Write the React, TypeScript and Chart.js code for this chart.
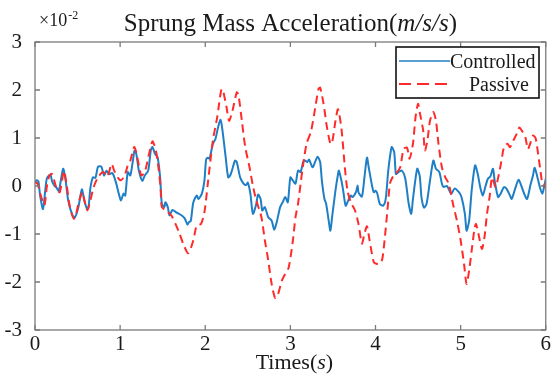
import React, { useEffect, useRef } from "react";
import { Chart, registerables } from "chart.js";

Chart.register(...registerables);

// ---- Data (values in units of 10^-2 m/s/s) ----
const controlledTime = [
  0.0, 0.02, 0.04, 0.06, 0.094, 0.12, 0.14, 0.18, 0.2, 0.23, 0.25, 0.28, 0.33, 0.36, 0.39, 0.44, 0.47, 0.51, 0.55, 0.58,
  0.61, 0.63, 0.65, 0.68, 0.71, 0.74, 0.78, 0.81, 0.84, 0.87, 0.91, 0.95, 0.99, 1.01, 1.04, 1.06, 1.09, 1.12, 1.15, 1.17,
  1.19, 1.22, 1.26, 1.29, 1.33, 1.36, 1.38, 1.41, 1.44, 1.47, 1.49, 1.52, 1.53, 1.56, 1.58, 1.615, 1.66, 1.72, 1.76, 1.79,
  1.81, 1.83, 1.86, 1.9, 1.92, 1.96, 1.99, 2.01, 2.03, 2.05, 2.09, 2.12, 2.15, 2.18, 2.2, 2.24, 2.27, 2.3, 2.35, 2.37,
  2.41, 2.45, 2.48, 2.5, 2.53, 2.56, 2.6, 2.62, 2.65, 2.67, 2.7, 2.74, 2.78, 2.81, 2.84, 2.88, 2.91, 2.94, 2.97, 3.0,
  3.03, 3.06, 3.09, 3.12, 3.15, 3.17, 3.2, 3.22, 3.26, 3.29, 3.32, 3.35, 3.37, 3.4, 3.42, 3.45, 3.47, 3.49, 3.53, 3.56,
  3.57, 3.6, 3.62, 3.65, 3.68, 3.71, 3.73, 3.77, 3.79, 3.8, 3.84, 3.87, 3.9, 3.92, 3.96, 3.98, 4.0, 4.02, 4.05, 4.09,
  4.12, 4.15, 4.19, 4.22, 4.24, 4.27, 4.31, 4.35, 4.39, 4.42, 4.44, 4.49, 4.52, 4.54, 4.57, 4.6, 4.64, 4.68, 4.71, 4.75,
  4.78, 4.8, 4.84, 4.89, 4.93, 4.98, 5.01, 5.05, 5.07, 5.1, 5.13, 5.17, 5.2, 5.23, 5.26, 5.29, 5.32, 5.35, 5.38, 5.4,
  5.44, 5.47, 5.51, 5.54, 5.58, 5.6, 5.64, 5.68, 5.71, 5.74, 5.78, 5.82, 5.85, 5.87, 5.9, 5.93, 5.96, 5.98, 6.0,
];
const controlledValue = [
  0.08, 0.12, 0.1, -0.2, -0.48, -0.1, 0.16, 0.24, 0.1, 0.0, -0.03, -0.1, 0.36, 0.11, -0.3, -0.61, -0.65, -0.44, -0.07, -0.3,
  -0.47, -0.42, -0.05, 0.18, 0.17, 0.4, 0.4, 0.22, 0.32, 0.25, 0.27, 0.08, -0.2, -0.3, -0.16, -0.2, 0.29, 0.22, 0.53, 0.74,
  0.67, 0.32, 0.11, 0.22, 0.32, 0.74, 0.81, 0.67, 0.6, 0.18, -0.37, -0.44, -0.34, -0.44, -0.61, -0.5, -0.55, -0.61, -0.68, -0.8,
  -0.75, -0.73, -0.34, -0.2, -0.27, -0.16, 0.11, 0.55, 0.59, 0.57, 0.88, 0.98, 1.22, 1.38, 1.19, 0.6, 0.18, 0.25, 0.53, 0.5,
  0.18, 0.05, 0.02, 0.07, -0.16, -0.58, -0.37, -0.18, -0.27, -0.51, -0.44, -0.65, -0.72, -0.91, -0.75, -0.44, -0.34, -0.23, -0.34, 0.18,
  0.11, 0.05, 0.32, 0.29, 0.5, 0.53, 0.5, 0.55, 0.39, 0.5, 0.61, 0.5, 0.11, -0.27, -0.37, -0.72, -0.93, -0.65, -0.09, 0.25,
  0.32, 0.11, -0.09, -0.41, -0.3, -0.2, -0.23, -0.13, 0.01, -0.13, -0.22, 0.18, 0.59, 0.39, 0.0, -0.13, -0.1, -0.15, -0.37, -0.41,
  -0.27, 0.32, 0.81, 0.7, 0.25, 0.29, 0.32, 0.15, -0.37, -0.58, -0.27, 0.36, 0.2, -0.23, -0.45, -0.37, 0.11, 0.53, 0.36, 0.29,
  0.05, -0.02, 0.0, -0.16, -0.05, -0.13, -0.23, -0.58, -0.93, -0.72, -0.09, 0.43, 0.26, -0.02, -0.2, -0.02, 0.15, 0.2, 0.36, 0.11,
  -0.23, -0.16, -0.02, -0.06, -0.2, -0.27, -0.06, 0.13, 0.02, -0.13, -0.27, 0.02, 0.22, 0.38, 0.2, -0.02, -0.16, -0.02, 0.15,
];

const passiveTime = [
  0.0, 0.03, 0.06, 0.11, 0.14, 0.17, 0.2, 0.25, 0.29, 0.34, 0.37, 0.41, 0.455, 0.48, 0.52, 0.56, 0.58, 0.615, 0.65, 0.69,
  0.74, 0.8, 0.85, 0.9, 0.93, 1.0, 1.05, 1.09, 1.12, 1.165, 1.19, 1.22, 1.25, 1.29, 1.34, 1.38, 1.42, 1.44, 1.475, 1.49,
  1.54, 1.6, 1.65, 1.7, 1.74, 1.8, 1.86, 1.9, 1.95, 1.99, 2.03, 2.09, 2.14, 2.19, 2.21, 2.25, 2.28, 2.32, 2.37, 2.39,
  2.43, 2.47, 2.52, 2.56, 2.6, 2.66, 2.7, 2.74, 2.78, 2.82, 2.85, 2.9, 2.94, 2.98, 3.03, 3.06, 3.09, 3.14, 3.19, 3.24,
  3.28, 3.33, 3.35, 3.39, 3.43, 3.47, 3.49, 3.53, 3.56, 3.6, 3.64, 3.67, 3.71, 3.76, 3.8, 3.84, 3.87, 3.9, 3.93, 3.98,
  4.01, 4.05, 4.08, 4.11, 4.14, 4.17, 4.2, 4.24, 4.29, 4.33, 4.37, 4.4, 4.44, 4.47, 4.5, 4.52, 4.56, 4.58, 4.61, 4.64,
  4.68, 4.71, 4.74, 4.78, 4.82, 4.86, 4.91, 4.96, 5.0, 5.04, 5.07, 5.1, 5.13, 5.16, 5.18, 5.21, 5.25, 5.28, 5.31, 5.34,
  5.37, 5.41, 5.45, 5.48, 5.51, 5.55, 5.58, 5.62, 5.66, 5.69, 5.72, 5.76, 5.79, 5.82, 5.85, 5.88, 5.91, 5.94, 5.96, 5.99,
  6.0,
];
const passiveValue = [
  0.08, 0.05, -0.15, -0.4, 0.0, 0.22, 0.25, -0.03, -0.13, 0.31, 0.05, -0.44, -0.68, -0.6, -0.3, -0.13, -0.3, -0.51, -0.3, -0.02,
  0.18, 0.29, 0.2, 0.46, 0.32, 0.12, 0.2, 0.43, 0.53, 0.81, 0.7, 0.43, 0.22, 0.29, 0.67, 0.93, 0.74, 0.53, -0.02, -0.44,
  -0.51, -0.61, -0.79, -1.0, -1.2, -1.4, -1.13, -0.82, -0.79, -0.55, 0.05, 0.95, 1.43, 2.02, 1.98, 1.64, 1.36, 1.57, 1.95, 1.9,
  1.36, 0.81, 0.39, 0.0, -0.3, -0.65, -1.13, -1.55, -2.04, -2.33, -2.28, -1.97, -1.83, -1.7, -1.13, -0.65, -0.37, 0.32, 0.88, 1.12,
  1.5, 2.02, 2.05, 1.71, 1.22, 0.88, 0.9, 1.36, 1.6, 1.19, 0.39, -0.09, -0.34, -0.51, -0.79, -1.2, -1.0, -0.84, -1.13, -1.59,
  -1.62, -1.62, -1.52, -1.07, -0.51, 0.05, 0.18, 0.25, 0.39, 0.77, 0.8, 0.57, 0.88, 1.43, 1.71, 1.53, 1.16, 0.74, 0.95, 1.36,
  1.54, 1.36, 0.88, 0.39, 0.18, 0.05, -0.37, -0.75, -1.13, -1.62, -2.04, -1.76, -1.34, -0.93, -0.79, -1.0, -1.31, -1.07, -0.58, -0.23,
  0.18, -0.02, 0.25, 0.53, 0.81, 0.88, 0.81, 0.95, 1.09, 1.22, 1.15, 1.02, 0.77, 0.9, 1.05, 1.0, 0.67, 0.29, 0.05, -0.02,
  0.08,
];

const xTickValues = [0, 1, 2, 3, 4, 5, 6];
const yTickValues = [-3, -2, -1, 0, 1, 2, 3];
const seriesLabels = ["Controlled", "Passive"];

const SERIF = "'Liberation Serif', 'Times New Roman', serif";
const BLUE = "#1f7fc6";
const RED = "#ff2a2a";
const TEXT = "#1a1a1a";

type Part = { text: string; italic?: boolean };

function drawParts(ctx: CanvasRenderingContext2D, parts: Part[], size: number, cx: number, baseline: number) {
  const fontFor = (p: Part) => `${p.italic ? "italic " : ""}${size}px ${SERIF}`;
  let total = 0;
  parts.forEach((p) => {
    ctx.font = fontFor(p);
    total += ctx.measureText(p.text).width;
  });
  let x = cx - total / 2;
  ctx.textAlign = "left";
  ctx.textBaseline = "alphabetic";
  parts.forEach((p) => {
    ctx.font = fontFor(p);
    ctx.fillText(p.text, x, baseline);
    x += ctx.measureText(p.text).width;
  });
}

const decorPlugin = {
  id: "matlabDecor",
  afterDraw(chart: any) {
    const { ctx, chartArea: a, scales } = chart;
    ctx.save();
    // frame
    ctx.strokeStyle = "#7a7a7a";
    ctx.lineWidth = 1.3;
    ctx.setLineDash([]);
    ctx.strokeRect(a.left, a.top, a.right - a.left, a.bottom - a.top);
    // inward ticks on all four sides
    ctx.beginPath();
    scales.x.ticks.forEach((t: any) => {
      const px = scales.x.getPixelForValue(t.value);
      ctx.moveTo(px, a.bottom);
      ctx.lineTo(px, a.bottom - 5);
      ctx.moveTo(px, a.top);
      ctx.lineTo(px, a.top + 5);
    });
    scales.y.ticks.forEach((t: any) => {
      const py = scales.y.getPixelForValue(t.value);
      ctx.moveTo(a.left, py);
      ctx.lineTo(a.left + 5, py);
      ctx.moveTo(a.right, py);
      ctx.lineTo(a.right - 5, py);
    });
    ctx.stroke();

    // legend box
    const lx = 396, ly = 47, lw = 143, lh = 51;
    ctx.fillStyle = "#ffffff";
    ctx.fillRect(lx, ly, lw, lh);
    ctx.strokeStyle = "#111111";
    ctx.lineWidth = 1.6;
    ctx.strokeRect(lx, ly, lw, lh);
    // controlled sample
    ctx.strokeStyle = BLUE;
    ctx.lineWidth = 1.5;
    ctx.beginPath();
    ctx.moveTo(399, 61);
    ctx.lineTo(450, 61);
    ctx.stroke();
    // passive sample
    ctx.strokeStyle = RED;
    ctx.lineWidth = 1.8;
    ctx.setLineDash([12, 6]);
    ctx.beginPath();
    ctx.moveTo(399, 84);
    ctx.lineTo(450, 84);
    ctx.stroke();
    ctx.setLineDash([]);
    ctx.fillStyle = TEXT;
    ctx.font = `20px ${SERIF}`;
    ctx.textAlign = "left";
    ctx.textBaseline = "alphabetic";
    ctx.fillText(seriesLabels[0], 450, 68);
    ctx.fillText(seriesLabels[1], 469, 91);

    // title
    ctx.fillStyle = TEXT;
    drawParts(
      ctx,
      [{ text: "Sprung Mass Acceleration(" }, { text: "m/s/s", italic: true }, { text: ")" }],
      25,
      (a.left + a.right) / 2,
      31
    );
    // exponent label
    ctx.font = `18px ${SERIF}`;
    ctx.textAlign = "left";
    ctx.fillText("\u00d710", 39, 26);
    const w = ctx.measureText("\u00d710").width;
    ctx.font = `12px ${SERIF}`;
    ctx.fillText("-2", 39 + w + 1, 19);

    // x axis title
    drawParts(ctx, [{ text: "Times(" }, { text: "s", italic: true }, { text: ")" }], 22, (a.left + a.right) / 2 + 4, 369);
    ctx.restore();
  },
};

export default function App() {
  const canvasRef = useRef<HTMLCanvasElement | null>(null);

  useEffect(() => {
    const canvas = canvasRef.current;
    if (!canvas) return;
    const chart = new Chart(canvas, {
      type: "line",
      data: {
        datasets: [
          {
            label: seriesLabels[0],
            data: controlledTime.map((t, i) => ({ x: t, y: controlledValue[i] })),
            borderColor: BLUE,
            backgroundColor: BLUE,
            borderWidth: 2,
            pointRadius: 0,
            tension: 0.25,
            fill: false,
            order: 1,
          },
          {
            label: seriesLabels[1],
            data: passiveTime.map((t, i) => ({ x: t, y: passiveValue[i] })),
            borderColor: RED,
            backgroundColor: RED,
            borderWidth: 2,
            borderDash: [8, 5],
            pointRadius: 0,
            tension: 0.25,
            fill: false,
            order: 0,
          },
        ],
      },
      options: {
        animation: false,
        responsive: true,
        maintainAspectRatio: false,
        layout: { padding: { top: 42, right: 7, left: 0, bottom: 0 } },
        plugins: {
          legend: { display: false },
          title: { display: false },
          tooltip: { enabled: false },
        },
        scales: {
          x: {
            type: "linear",
            min: 0,
            max: 6,
            grid: { display: false, drawTicks: false, tickLength: 0 },
            border: { display: false },
            afterBuildTicks: (s: any) => {
              s.ticks = xTickValues.map((v) => ({ value: v }));
            },
            afterFit: (s: any) => {
              s.height = 46;
            },
            ticks: {
              autoSkip: false,
              maxRotation: 0,
              padding: 2,
              color: TEXT,
              font: { family: SERIF, size: 21 },
              callback: (v: any) => String(v),
            },
          },
          y: {
            type: "linear",
            min: -3,
            max: 3,
            grid: { display: false, drawTicks: false, tickLength: 0 },
            border: { display: false },
            afterBuildTicks: (s: any) => {
              s.ticks = yTickValues.map((v) => ({ value: v }));
            },
            afterFit: (s: any) => {
              s.width = 35;
            },
            ticks: {
              autoSkip: false,
              padding: 13,
              color: TEXT,
              font: { family: SERIF, size: 21 },
              callback: (v: any) => String(v),
            },
          },
        },
      },
      plugins: [decorPlugin],
    });
    return () => chart.destroy();
  }, []);

  return (
    <div style={{ position: "absolute", left: 0, top: 0, width: 553, height: 376, background: "#ffffff" }}>
      <canvas ref={canvasRef} />
    </div>
  );
}
